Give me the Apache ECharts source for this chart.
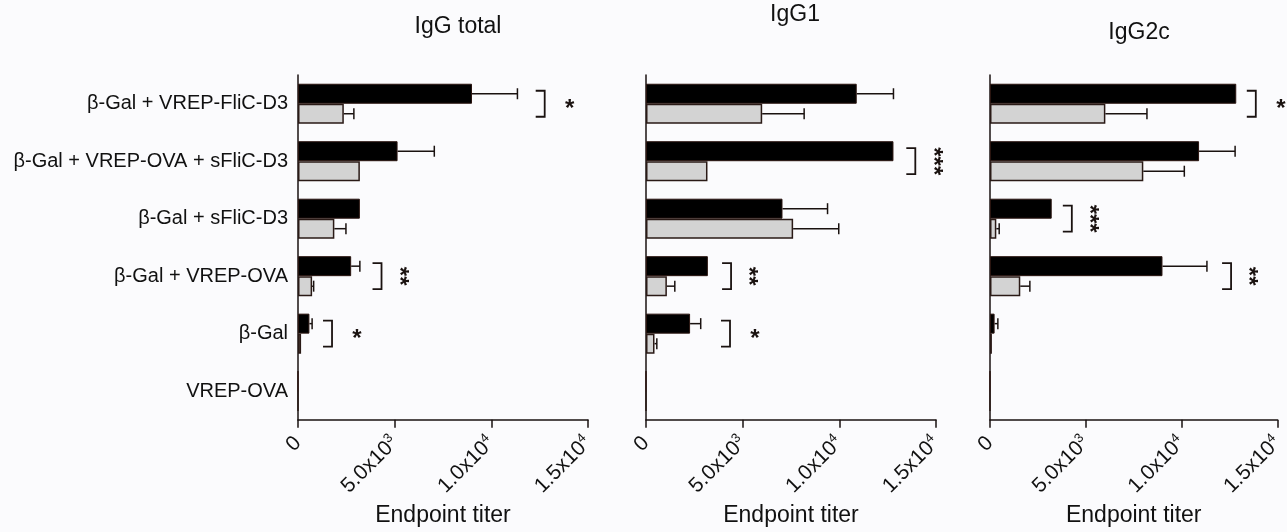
<!DOCTYPE html>
<html>
<head>
<meta charset="utf-8">
<script src="https://cdn.jsdelivr.net/npm/echarts@6/dist/echarts.min.js"></script>
<style>
html,body{margin:0;padding:0;background:#fbfbfd;}
#c{width:1287px;height:532px;}
</style>
</head>
<body>
<div id="c"></div>
<script>
// ---- data ----
const categories = ['β-Gal + VREP-FliC-D3', 'β-Gal + VREP-OVA + sFliC-D3', 'β-Gal + sFliC-D3', 'β-Gal + VREP-OVA', 'β-Gal', 'VREP-OVA'];
const titles = ['IgG total', 'IgG1', 'IgG2c'];

const totalBlack    = [9000, 5150, 3200, 2750, 590, 0];
const totalBlackErr = [2350, 1900, 0, 450, 140, 0];
const totalGrey     = [2370, 3200, 1880, 730, 160, 0];
const totalGreyErr  = [520, 0, 600, 80, 0, 0];

const g1Black    = [10900, 12800, 7060, 3200, 2280, 0];
const g1BlackErr = [1900, 0, 2330, 0, 550, 0];
const g1Grey     = [6010, 3180, 7610, 1080, 440, 0];
const g1GreyErr  = [2170, 0, 2360, 410, 120, 0];

const g2cBlack    = [12850, 10910, 3220, 9000, 240, 0];
const g2cBlackErr = [0, 1880, 0, 2320, 170, 0];
const g2cGrey     = [6020, 8000, 330, 1580, 100, 0];
const g2cGreyErr  = [2170, 2140, 150, 500, 0, 0];

// significance: [bracket x (titer), category row, label]
const totalSig = [[12760, 0, '*'], [4320, 3, '**'], [1760, 4, '*']];
const g1Sig    = [[13930, 1, '***'], [4400, 3, '**'], [4345, 4, '*']];
const g2cSig   = [[13870, 0, '*'], [4270, 2, '***'], [12580, 3, '**']];

const tickValues   = [0, 5000, 10000, 15000];
const tickMantissa = ['0', '5.0x10', '1.0x10', '1.5x10'];
const tickExponent = ['', '3', '4', '4'];

const axisName = 'Endpoint titer';

// ---- build ----
const panelBlack = [totalBlack, g1Black, g2cBlack];
const panelBlackErr = [totalBlackErr, g1BlackErr, g2cBlackErr];
const panelGrey = [totalGrey, g1Grey, g2cGrey];
const panelGreyErr = [totalGreyErr, g1GreyErr, g2cGreyErr];
const panelSig = [totalSig, g1Sig, g2cSig];

const FONT = 'Liberation Sans, Arial, sans-serif';
const INK = '#1a1210';
const panelLeft = [298, 646, 990];
const panelWidth = 290;
const titleX = [453, 790, 1134];
const titleTop = [10, -2, 16];
const BW = 20;

function errRender(offset) {
  return function (params, api) {
    const v = api.value(0), k = api.value(1), e = api.value(2);
    if (!(e > 0)) return;
    const p0 = api.coord([v, k]);
    const p1 = api.coord([v + e, k]);
    const y = p0[1] + offset;
    return {
      type: 'group',
      children: [
        { type: 'line', shape: { x1: p0[0], y1: y, x2: p1[0], y2: y }, style: { stroke: INK, lineWidth: 1.5 } },
        { type: 'line', shape: { x1: p1[0], y1: y - 5.5, x2: p1[0], y2: y + 5.5 }, style: { stroke: INK, lineWidth: 1.5 } }
      ]
    };
  };
}

const sigLabels = {};
function sigRender(params, api) {
  const xv = api.value(0), k = api.value(1);
  const label = sigLabels[params.seriesIndex][params.dataIndexInside];
  const p = api.coord([xv, k]);
  const top = p[1] - 13, bot = p[1] + 13;
  const rotated = label.length > 1;
  return {
    type: 'group',
    children: [
      { type: 'polyline', shape: { points: [[p[0] - 9, top], [p[0], top], [p[0], bot], [p[0] - 9, bot]] },
        style: { stroke: INK, lineWidth: 1.8, fill: null } },
      { type: 'text', x: p[0] + (rotated ? 17 : 25), y: p[1] + (rotated ? 0 : 6), rotation: rotated ? -Math.PI / 2 : 0,
        style: { text: label, font: 'bold 24px ' + FONT, fill: INK, align: 'center', verticalAlign: 'middle' } }
    ]
  };
}

const grids = [], xAxes = [], yAxes = [], series = [], titleList = [];

for (let i = 0; i < 3; i++) {
  grids.push({ left: panelLeft[i], width: panelWidth, top: 75, height: 345 });
  titleList.push({ text: titles[i], left: titleX[i], top: titleTop[i], textAlign: 'center',
    textStyle: { fontFamily: FONT, fontSize: 23, fontWeight: 'normal', color: '#111' } });
  xAxes.push({
    gridIndex: i, type: 'value', min: 0, max: 15000, interval: 5000,
    splitLine: { show: false },
    axisLine: { show: true, lineStyle: { color: INK, width: 1.5 } },
    axisTick: { show: true, length: 8, lineStyle: { color: INK, width: 1.5 } },
    axisLabel: {
      rotate: 45, margin: 20, color: '#111',
      formatter: function (v) {
        const j = tickValues.indexOf(v);
        if (j < 0) return '';
        return tickExponent[j] ? '{m|' + tickMantissa[j] + '}{e|' + tickExponent[j] + '}' : '{m|' + tickMantissa[j] + '}';
      },
      rich: {
        m: { fontFamily: FONT, fontSize: 21, color: '#111', lineHeight: 24 },
        e: { fontFamily: FONT, fontSize: 13, color: '#111', lineHeight: 13, verticalAlign: 'top' }
      }
    },
    name: axisName, nameLocation: 'middle', nameGap: 83,
    nameTextStyle: { fontFamily: FONT, fontSize: 23, color: '#111' }
  });
  yAxes.push({
    gridIndex: i, type: 'category', data: categories, inverse: true,
    axisLine: { show: true, lineStyle: { color: INK, width: 1.5 } },
    axisTick: { show: false },
    axisLabel: { show: i === 0, fontFamily: FONT, fontSize: 20, color: '#111', margin: 10 }
  });
  series.push({
    type: 'bar', xAxisIndex: i, yAxisIndex: i, data: panelBlack[i], barWidth: BW, barGap: '0%',
    itemStyle: { color: '#000', borderColor: '#2a1510', borderWidth: 1 }, silent: true, z: 2
  });
  series.push({
    type: 'bar', xAxisIndex: i, yAxisIndex: i, data: panelGrey[i], barWidth: BW, barGap: '0%',
    itemStyle: { color: '#d3d3d3', borderColor: '#2a1a16', borderWidth: 1.5 }, silent: true, z: 2
  });
  series.push({
    type: 'custom', xAxisIndex: i, yAxisIndex: i, renderItem: errRender(-BW / 2), z: 3, silent: true,
    data: panelBlack[i].map((v, k) => [v, k, panelBlackErr[i][k]])
  });
  series.push({
    type: 'custom', xAxisIndex: i, yAxisIndex: i, renderItem: errRender(BW / 2), z: 3, silent: true,
    data: panelGrey[i].map((v, k) => [v, k, panelGreyErr[i][k]])
  });
  sigLabels[series.length] = panelSig[i].map(s => s[2]);
  series.push({
    type: 'custom', xAxisIndex: i, yAxisIndex: i, renderItem: sigRender, z: 3, silent: true, clip: false,
    data: panelSig[i].map(s => [s[0], s[1]])
  });
}

const chart = echarts.init(document.getElementById('c'));
chart.setOption({
  backgroundColor: '#fbfbfd',
  animation: false,
  title: titleList,
  grid: grids,
  xAxis: xAxes,
  yAxis: yAxes,
  series: series
});
</script>
</body>
</html>
